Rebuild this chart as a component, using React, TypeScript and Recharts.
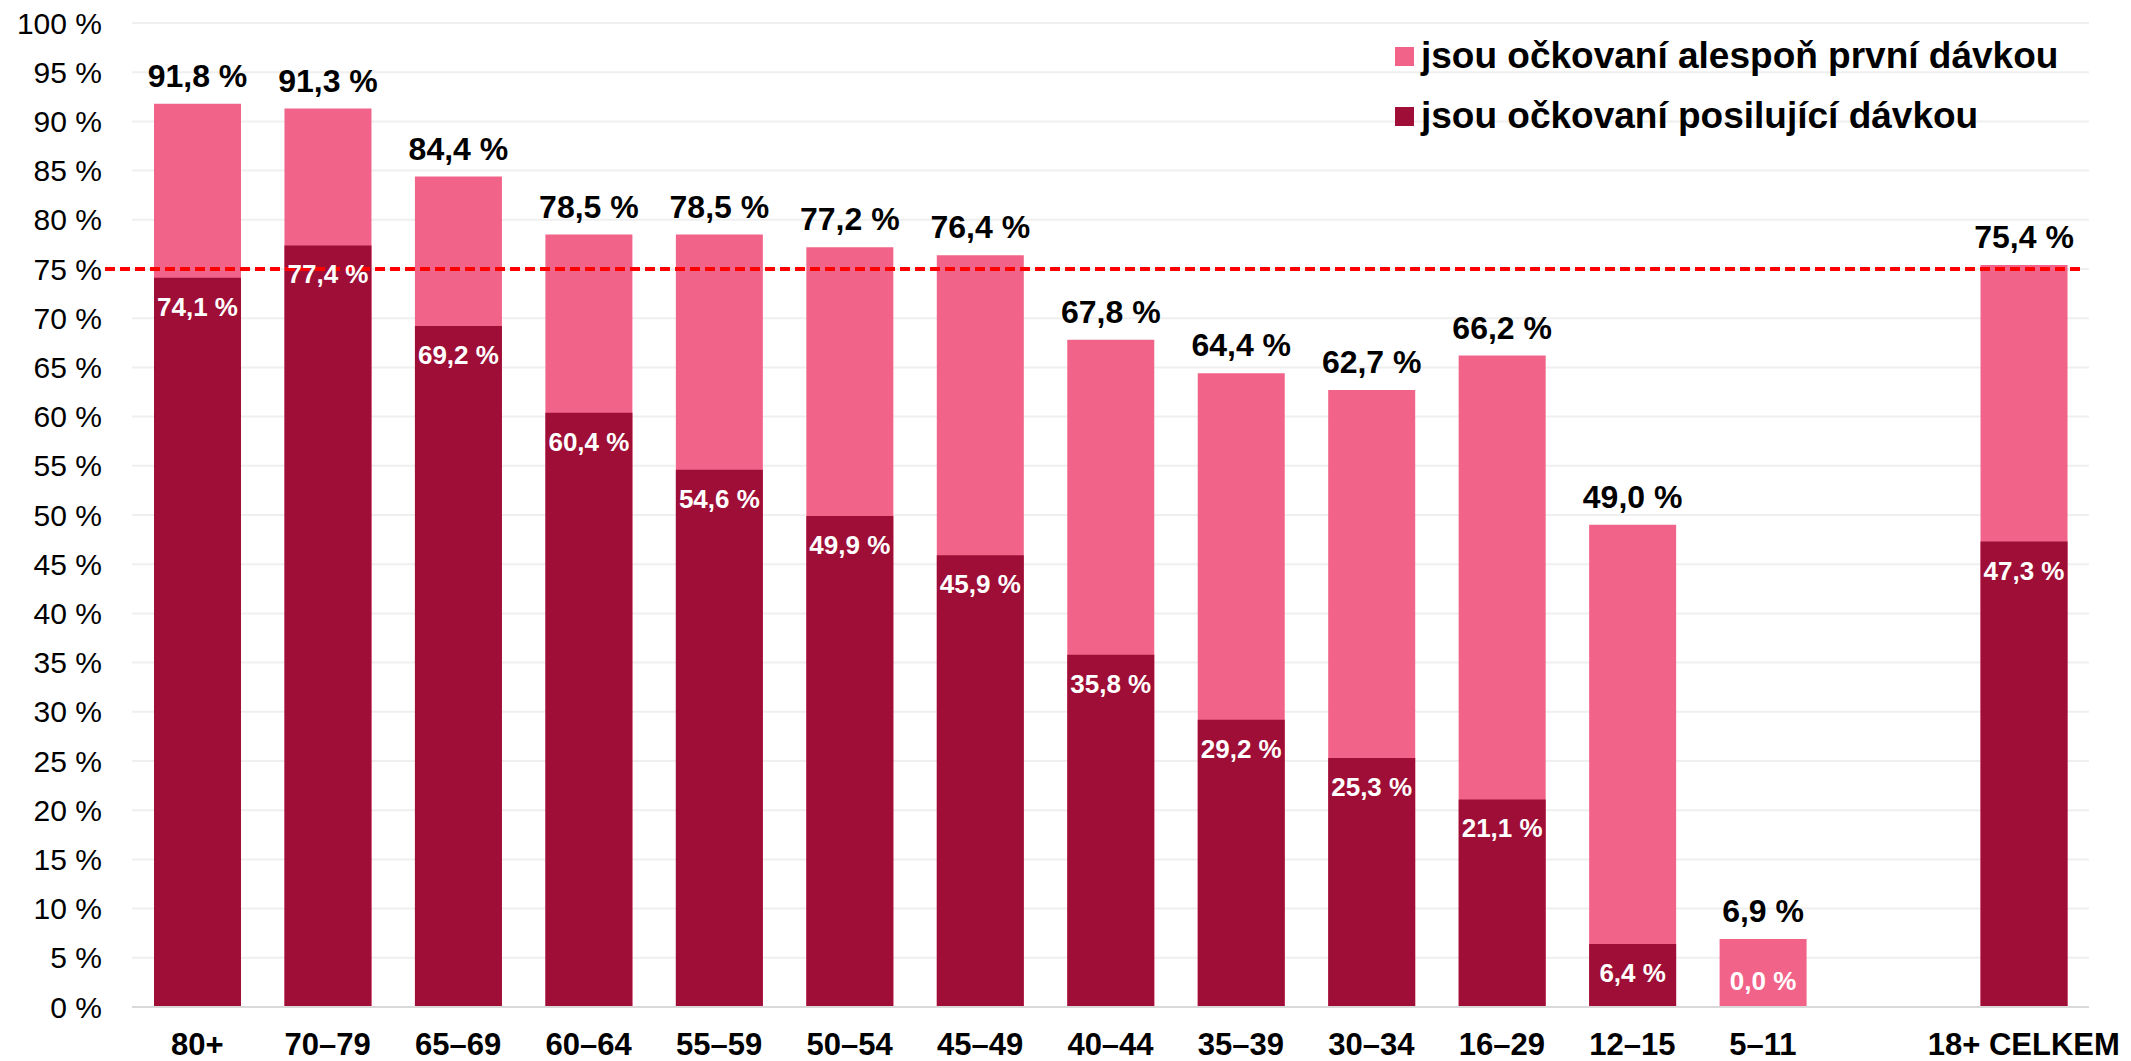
import React from 'react';
import { BarChart, Bar, XAxis, YAxis, CartesianGrid, ReferenceLine, LabelList, Legend } from 'recharts';

const FONT = '"Liberation Sans", Arial, sans-serif';
const PINK = '#F26389';
const DARK = '#9E0E36';

const categories = ['80+', '70–79', '65–69', '60–64', '55–59', '50–54', '45–49', '40–44', '35–39', '30–34', '16–29', '12–15', '5–11', ' ', '18+ CELKEM'];
const firstDose = [91.8, 91.3, 84.4, 78.5, 78.5, 77.2, 76.4, 67.8, 64.4, 62.7, 66.2, 49.0, 6.9, null, 75.4];
const booster = [74.1, 77.4, 69.2, 60.4, 54.6, 49.9, 45.9, 35.8, 29.2, 25.3, 21.1, 6.4, 0.0, null, 47.3];
const yTicks = [0, 5, 10, 15, 20, 25, 30, 35, 40, 45, 50, 55, 60, 65, 70, 75, 80, 85, 90, 95, 100];
const target = 75;

const data = categories.map((cat, i) => ({ cat, first: firstDose[i], booster: booster[i] }));

const fmt = (v: number) => v.toFixed(1).replace('.', ',') + ' %';

const TopLabel = (props: any) => {
  const { x, y, width, value } = props;
  if (value == null) return null;
  return (
    <text x={x + width / 2} y={y - 17} textAnchor="middle" fontFamily={FONT} fontSize={32} fontWeight="bold" fill="#000">
      {fmt(value)}
    </text>
  );
};

const InnerLabel = (props: any) => {
  const { x, y, width, height, value } = props;
  if (value == null || value === 0) return null;
  const baseline = Math.min(y + 38, y + height - 17);
  return (
    <text x={x + width / 2} y={baseline} textAnchor="middle" fontFamily={FONT} fontSize={26} fontWeight="bold" fill="#fff">
      {fmt(value)}
    </text>
  );
};

// booster bars of zero height get no label from their own bar, so draw it at the base of the pink bar
const ZeroBoosterLabel = (props: any) => {
  const { x, y, width, height, value } = props;
  if (value !== 0) return null;
  return (
    <text x={x + width / 2} y={y + height - 17} textAnchor="middle" fontFamily={FONT} fontSize={26} fontWeight="bold" fill="#fff">
      {fmt(value)}
    </text>
  );
};

const DashedTarget = (props: any) => {
  const { x1, y1, x2, y2 } = props;
  return <line x1={x1 - 27} y1={y1} x2={x2 - 6} y2={y2} stroke="#FF0000" strokeWidth={4} strokeDasharray="10 5" />;
};

const legendItems = [
  { label: 'jsou očkovaní alespoň první dávkou', color: PINK },
  { label: 'jsou očkovaní posilující dávkou', color: DARK },
];

const renderLegend = () => (
  <div style={{ fontFamily: FONT, fontSize: 37, fontWeight: 'bold', color: '#000' }}>
    {legendItems.map((it) => (
      <div key={it.label} style={{ display: 'flex', alignItems: 'center', height: 60, whiteSpace: 'nowrap' }}>
        <span style={{ display: 'inline-block', width: 19, height: 19, background: it.color, marginRight: 7 }} />
        <span>{it.label}</span>
      </div>
    ))}
  </div>
);

const App: React.FC = () => {
  return (
    <div style={{ position: 'absolute', left: 0, top: 0, width: 2131, height: 1061, background: '#fff' }}>
      <BarChart width={2131} height={1061} data={data} margin={{ top: 23, right: 42, left: 0, bottom: 0 }}>
        <CartesianGrid xAxisId="a" vertical={false} stroke="#EFEFEF" strokeWidth={2} />
        <XAxis
          xAxisId="a"
          dataKey="cat"
          height={54}
          tickLine={false}
          axisLine={{ stroke: '#D9D9D9', strokeWidth: 2 }}
          tickMargin={20}
          interval={0}
          tick={{ fontFamily: FONT, fontSize: 31, fontWeight: 'bold', fill: '#000' }}
        />
        <XAxis xAxisId="b" dataKey="cat" hide />
        <YAxis
          width={132}
          domain={[0, 100]}
          ticks={yTicks}
          interval={0}
          tickLine={false}
          axisLine={false}
          tickMargin={24}
          tickFormatter={(v: number) => `${v} %`}
          tick={{ fontFamily: FONT, fontSize: 30, fill: '#000' }}
        />
        <Legend layout="vertical" align="center" verticalAlign="middle" content={renderLegend} wrapperStyle={{ top: 26, left: 1395, width: 720 }} />
        <Bar xAxisId="a" dataKey="first" fill={PINK} barSize={87} isAnimationActive={false}>
          <LabelList dataKey="first" content={TopLabel} />
          <LabelList dataKey="booster" content={ZeroBoosterLabel} />
        </Bar>
        <Bar xAxisId="b" dataKey="booster" fill={DARK} barSize={87} isAnimationActive={false}>
          <LabelList dataKey="booster" content={InnerLabel} />
        </Bar>
        <ReferenceLine xAxisId="a" y={target} shape={DashedTarget} />
      </BarChart>
    </div>
  );
};

export default App;
